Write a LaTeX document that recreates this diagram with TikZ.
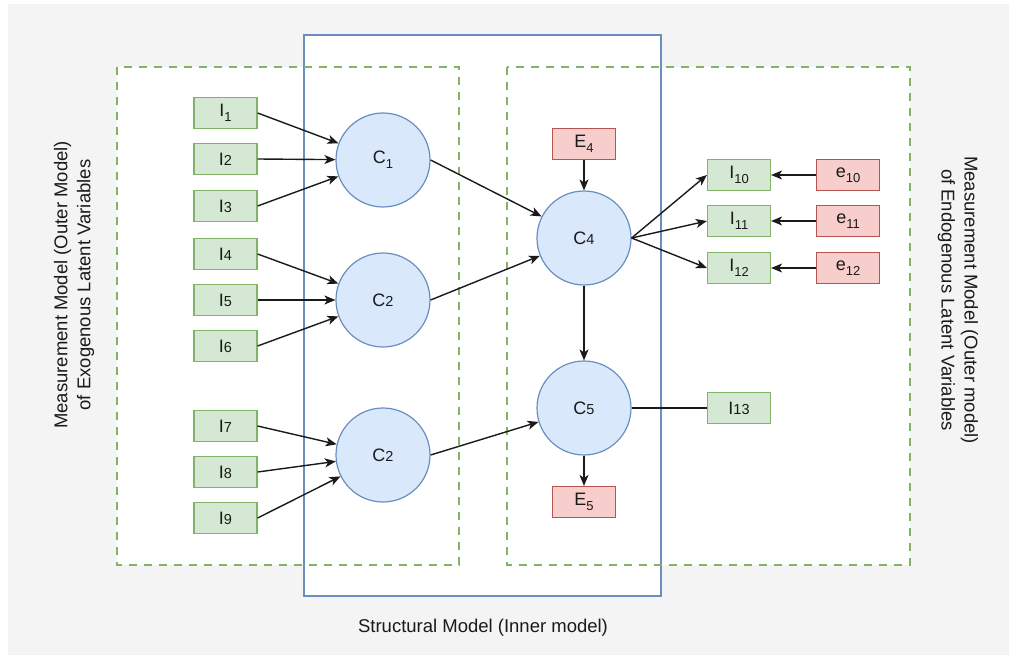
\documentclass[tikz,border=0pt]{standalone}
\usepackage{fontspec}
\setmainfont{Liberation Sans}
\usetikzlibrary{arrows.meta}
\definecolor{gfill}{HTML}{D5E8D4}
\definecolor{gline}{HTML}{82B366}
\definecolor{rfill}{HTML}{F8CECC}
\definecolor{rline}{HTML}{B85450}
\definecolor{bfill}{HTML}{DAE8FC}
\definecolor{bline}{HTML}{6C8EBF}
\definecolor{bggray}{HTML}{F4F4F4}
\definecolor{txt}{HTML}{1A1A1A}
\newcommand{\mysub}[1]{\raisebox{-5pt}{\fontsize{13}{13}\selectfont #1}}
\newcommand{\mysm}[1]{{\fontsize{14.5}{14.5}\selectfont #1}}
\tikzset{
  ind/.style={draw=gline, fill=gfill, line width=1.2pt, minimum width=63pt, minimum height=31pt, inner sep=0pt, font=\fontsize{18}{18}\selectfont, text=txt},
  err/.style={draw=rline, fill=rfill, line width=1.2pt, minimum width=63pt, minimum height=31pt, inner sep=0pt, font=\fontsize{18}{18}\selectfont, text=txt},
  lat/.style={circle, draw=bline, fill=bfill, line width=1.2pt, minimum size=94pt, inner sep=0pt, font=\fontsize{18}{18}\selectfont, text=txt},
  arr/.style={-{Stealth[length=11pt,width=9pt,inset=3pt]}, line width=1.4pt, draw=txt},
  plain/.style={line width=1.4pt, draw=txt},
  bluebox/.style={draw=bline, line width=2.4pt},
  greenbox/.style={draw=gline, line width=2.4pt, dash pattern=on 8pt off 7pt},
  title/.style={font=\fontsize{18.5}{23}\selectfont, text=txt, align=center}
}
\begin{document}
\begin{tikzpicture}[x=1pt,y=-1pt]
\useasboundingbox (0,0) rectangle (1009,655);
\fill[bggray] (8,4) rectangle (1009,655);
\fill[white] (304,35) rectangle (661,596);
\fill[white] (117,67) rectangle (459,565);
\fill[white] (507,67) rectangle (910,565);
\draw[bluebox] (304,35) rectangle (661,596);
\draw[greenbox] (117,67) rectangle (459,565);
\draw[greenbox] (507,67) rectangle (910,565);

% indicators left
\node[ind] (i1) at (225.5,113) {I\mysub{1}};
\node[ind] (i2) at (225.5,159) {I\mysm{2}};
\node[ind] (i3) at (225.5,206) {I\mysm{3}};
\node[ind] (i4) at (225.5,254) {I\mysm{4}};
\node[ind] (i5) at (225.5,300) {I\mysm{5}};
\node[ind] (i6) at (225.5,346) {I\mysm{6}};
\node[ind] (i7) at (225.5,426) {I\mysm{7}};
\node[ind] (i8) at (225.5,472) {I\mysm{8}};
\node[ind] (i9) at (225.5,518) {I\mysm{9}};

% latent
\node[lat] (c1) at (383,160) {C\mysub{1}};
\node[lat] (c2) at (383,300) {C\mysm{2}};
\node[lat] (c3) at (383,455) {C\mysm{2}};
\node[lat] (c4) at (584,238) {C\mysm{4}};
\node[lat] (c5) at (584,408) {C\mysm{5}};

% errors
\node[err] (e4) at (584,144) {E\mysub{4}};
\node[err] (e5) at (584,502) {E\mysub{5}};

% right indicators
\node[ind] (i10) at (739,175) {I\mysub{10}};
\node[ind] (i11) at (739,221) {I\mysub{11}};
\node[ind] (i12) at (739,268) {I\mysub{12}};
\node[ind] (i13) at (739,408) {I\mysm{13}};
\node[err] (ee10) at (848,175) {e\mysub{10}};
\node[err] (ee11) at (848,221) {e\mysub{11}};
\node[err] (ee12) at (848,268) {e\mysub{12}};

% connectors
\draw[arr] (i1.east) -- (c1);
\draw[arr] (i2.east) -- (c1);
\draw[arr] (i3.east) -- (c1);
\draw[arr] (i4.east) -- (c2);
\draw[arr] (i5.east) -- (c2);
\draw[arr] (i6.east) -- (c2);
\draw[arr] (i7.east) -- (c3);
\draw[arr] (i8.east) -- (c3);
\draw[arr] (i9.east) -- (c3);
\draw[arr] (c1.east) -- (c4);
\draw[arr] (c2.east) -- (c4);
\draw[arr] (c3.east) -- (c5);
\draw[arr] (e4) -- (c4);
\draw[arr] (c4) -- (c5);
\draw[arr] (c5) -- (e5);
\draw[plain] (c5) -- (i13);
\draw[arr] (c4.east) -- (i10.west);
\draw[arr] (c4.east) -- (i11.west);
\draw[arr] (c4.east) -- (i12.west);
\draw[arr] (ee10) -- (i10);
\draw[arr] (ee11) -- (i11);
\draw[arr] (ee12) -- (i12);

% titles
\node[title] (tbottom) at (483,628) {Structural Model (Inner model)};
\node[title, rotate=90] (tleft) at (74,285) {Measurement Model (Outer Model)\\of Exogenous Latent Variables};
\node[title, rotate=-90] (tright) at (958,300) {Measurement Model (Outer model)\\of Endogenous Latent Variables};
\end{tikzpicture}
\end{document}
